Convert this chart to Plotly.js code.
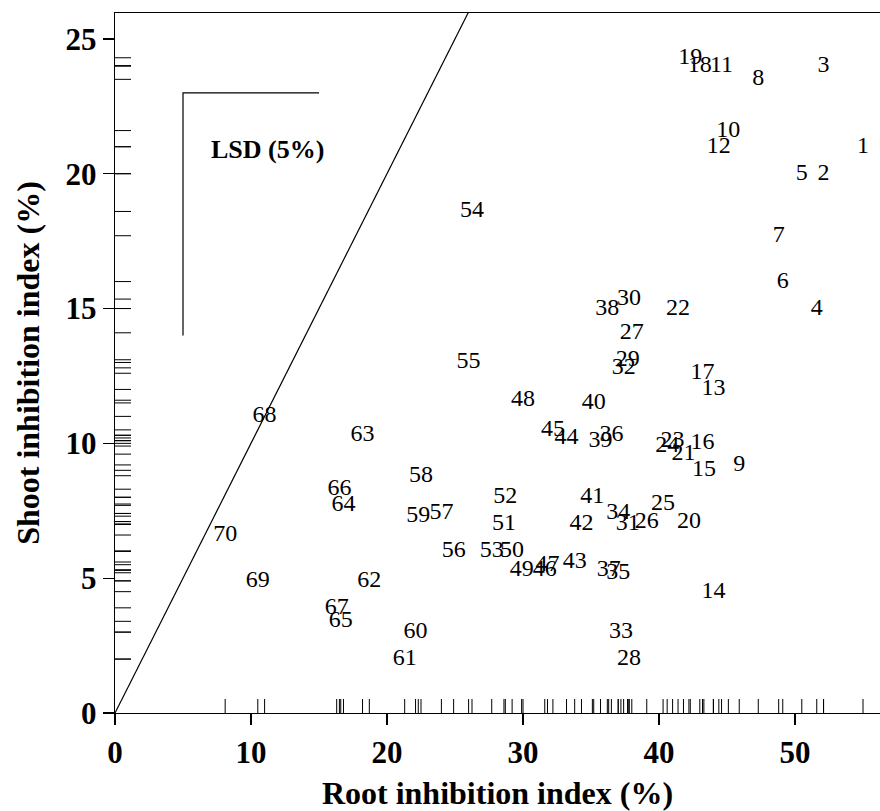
<!DOCTYPE html>
<html>
<head>
<meta charset="utf-8">
<script src="https://cdn.plot.ly/plotly-3.0.1.min.js"></script>
<style>body{margin:0;padding:0;background:#fff;}#chart{width:880px;height:811px;}</style>
</head>
<body>
<div id="chart"></div>
<script>
// Genotype labels 1..70
const labels = [];
for (let i = 1; i <= 70; i++) labels.push(String(i));

// Root inhibition index (%) for genotypes 1..70
const rootIdx = [
  55.0, 52.1, 52.1, 51.6, 50.5, 49.1, 48.8, 47.3, 45.9, 45.1,
  44.6, 44.4, 44.0, 44.0, 43.3, 43.2, 43.2, 43.0, 42.3, 42.2,
  41.8, 41.4, 41.0, 40.6, 40.3, 39.1, 38.0, 37.8, 37.7, 37.8,
  37.7, 37.4, 37.2, 37.0, 37.0, 36.5, 36.3, 36.2, 35.7, 35.2,
  35.1, 34.3, 33.8, 33.2, 32.2, 31.6, 31.8, 30.0, 29.9, 29.2,
  28.6, 28.7, 27.7, 26.25, 26.0, 24.9, 24.0, 22.5, 22.3, 22.1,
  21.3, 18.7, 18.2, 16.8, 16.6, 16.5, 16.3, 11.0, 10.5, 8.1
];

// Shoot inhibition index (%) for genotypes 1..70
const shootIdx = [
  21.0, 20.0, 24.0, 15.0, 20.0, 16.0, 17.7, 23.5, 9.2, 21.6,
  24.0, 21.0, 12.0, 4.5, 9.0, 10.0, 12.6, 24.0, 24.3, 7.1,
  9.6, 15.0, 10.1, 9.9, 7.75, 7.1, 14.1, 2.0, 13.1, 15.35,
  7.0, 12.8, 3.0, 7.4, 5.2, 10.3, 5.3, 15.0, 10.1, 11.5,
  8.0, 7.0, 5.6, 10.2, 10.5, 5.3, 5.5, 11.6, 5.3, 6.0,
  7.0, 8.0, 6.0, 18.6, 13.0, 6.0, 7.4, 8.8, 7.3, 3.0,
  2.0, 4.9, 10.3, 7.7, 3.4, 8.3, 3.9, 11.0, 4.9, 6.6
];

// 1:1 reference line and LSD (5%) bracket
const oneToOne = [0, 26];
const lsdX = [5, 5, 15];
const lsdY = [14, 23, 23];

const FONT = '"Liberation Serif", "Times New Roman", Times, serif';

const shapes = [];
// rug along the x axis (root values)
rootIdx.forEach(v => shapes.push({
  type: 'line', xref: 'x', yref: 'y', x0: v, x1: v,
  ysizemode: 'pixel', yanchor: 0, y0: 0, y1: 14,
  line: {color: '#000', width: 1}
}));
// rug along the y axis (shoot values)
shootIdx.forEach(v => shapes.push({
  type: 'line', xref: 'x', yref: 'y', y0: v, y1: v,
  xsizemode: 'pixel', xanchor: 0, x0: 0, x1: 16,
  line: {color: '#000', width: 1}
}));

const traces = [
  {
    x: oneToOne, y: oneToOne, mode: 'lines', type: 'scatter',
    line: {color: '#000', width: 1.2}, hoverinfo: 'skip', showlegend: false
  },
  {
    x: lsdX, y: lsdY, mode: 'lines', type: 'scatter',
    line: {color: '#000', width: 1.2}, hoverinfo: 'skip', showlegend: false
  },
  {
    x: rootIdx, y: shootIdx, text: labels, mode: 'text', type: 'scatter',
    textposition: 'middle center',
    textfont: {family: FONT, size: 24, color: '#000'},
    cliponaxis: false, showlegend: false
  }
];

const layout = {
  width: 880, height: 811,
  margin: {l: 115, r: 0, t: 13, b: 98, pad: 0},
  paper_bgcolor: '#fff', plot_bgcolor: '#fff',
  showlegend: false,
  font: {family: FONT, color: '#000'},
  xaxis: {
    range: [0, 56.25], dtick: 10, tick0: 0,
    showgrid: false, zeroline: false,
    showline: true, linecolor: '#000', linewidth: 1.3, mirror: true,
    ticks: 'outside', ticklen: 11, tickwidth: 1.3, tickcolor: '#000',
    tickfont: {family: FONT, size: 31, color: '#000', weight: 'bold'},
    title: {text: '<b>Root inhibition index (%)</b>', font: {family: FONT, size: 32, color: '#000'}, standoff: 14},
    fixedrange: true
  },
  yaxis: {
    range: [0, 25.96], dtick: 5, tick0: 0,
    showgrid: false, zeroline: false,
    showline: true, linecolor: '#000', linewidth: 1.3,
    ticks: 'outside', ticklen: 11, tickwidth: 1.3, tickcolor: '#000',
    tickfont: {family: FONT, size: 31, color: '#000', weight: 'bold'},
    title: {text: '<b>Shoot inhibition index (%)</b>', font: {family: FONT, size: 32, color: '#000'}, standoff: 16},
    fixedrange: true
  },
  shapes: shapes,
  annotations: [{
    xref: 'x', yref: 'y', x: 11.2, y: 20.9,
    text: '<b>LSD (5%)</b>', showarrow: false,
    font: {family: FONT, size: 26, color: '#000'}
  }]
};

Plotly.newPlot('chart', traces, layout, {displayModeBar: false, staticPlot: true});
</script>
</body>
</html>
